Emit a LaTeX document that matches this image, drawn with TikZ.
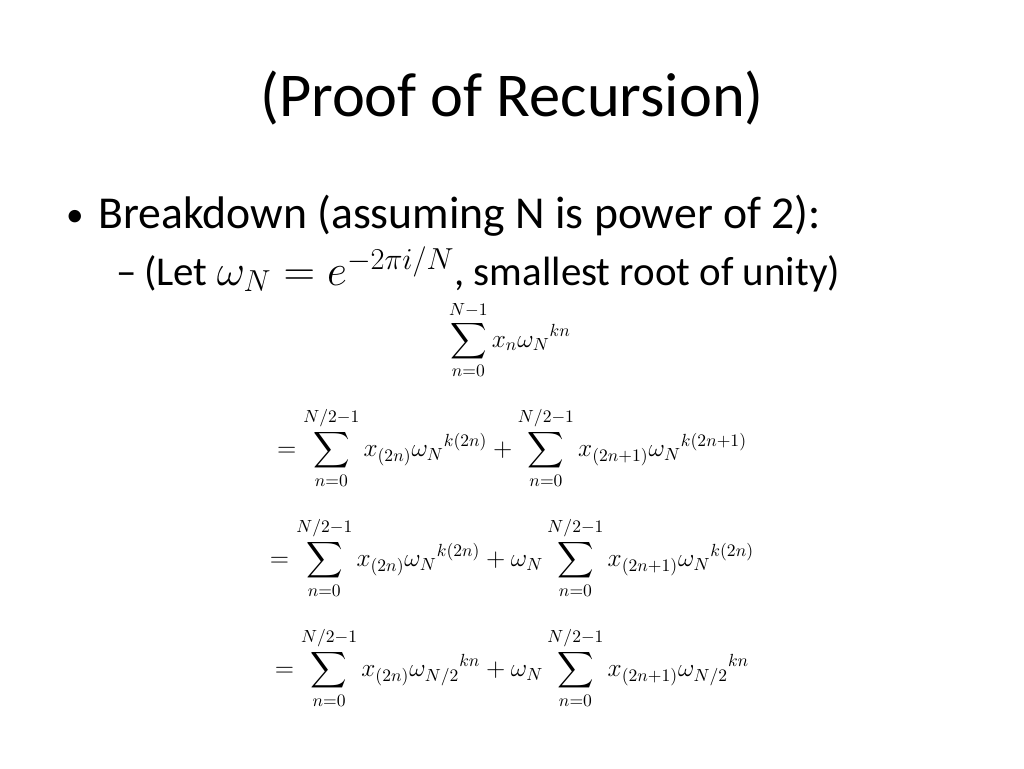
\documentclass[tikz,border=0pt]{standalone}
\usepackage{amsmath}
\usepackage{fontspec}
\setmainfont{Carlito}
\tikzset{
  eqline/.style={anchor=center, font=\fontsize{14}{16}\selectfont},
  bullettext/.style={anchor=base west, font=\fontsize{26}{30}\selectfont},
  subtext/.style={anchor=base west, font=\fontsize{23.3}{27}\selectfont}
}
\begin{document}
\begin{tikzpicture}[x=0.02cm,y=-0.02cm]
\useasboundingbox (0,0) rectangle (1024,768);
\node[font=\fontsize{35.5}{40}\selectfont] (title) at (512,98) {(Proof of Recursion)};

\node[bullettext, font=\fontsize{20}{24}\selectfont] (dot) at (60,226) {•};
\node[bullettext] (breakdown) at (92,228) {Breakdown (assuming N is power of 2):};
\node[subtext] (dash) at (110,285) {–};
\node[subtext] (let) at (138,285) {(Let $\omega_N = e^{-2\pi i/N}$, smallest root of unity)};

\node[eqline] (sum1) at (510,340) {$\displaystyle\sum_{n=0}^{N-1} x_n {\omega_N}^{kn}$};
\node[eqline] (sum2) at (512,448) {$\displaystyle = \sum_{n=0}^{N/2-1} x_{(2n)} {\omega_N}^{k(2n)} + \sum_{n=0}^{N/2-1} x_{(2n+1)} {\omega_N}^{k(2n+1)}$};
\node[eqline] (sum3) at (512,558) {$\displaystyle = \sum_{n=0}^{N/2-1} x_{(2n)} {\omega_N}^{k(2n)} + \omega_N \sum_{n=0}^{N/2-1} x_{(2n+1)} {\omega_N}^{k(2n)}$};
\node[eqline] (sum4) at (512,668) {$\displaystyle = \sum_{n=0}^{N/2-1} x_{(2n)} {\omega_{N/2}}^{kn} + \omega_N \sum_{n=0}^{N/2-1} x_{(2n+1)} {\omega_{N/2}}^{kn}$};
\end{tikzpicture}
\end{document}
